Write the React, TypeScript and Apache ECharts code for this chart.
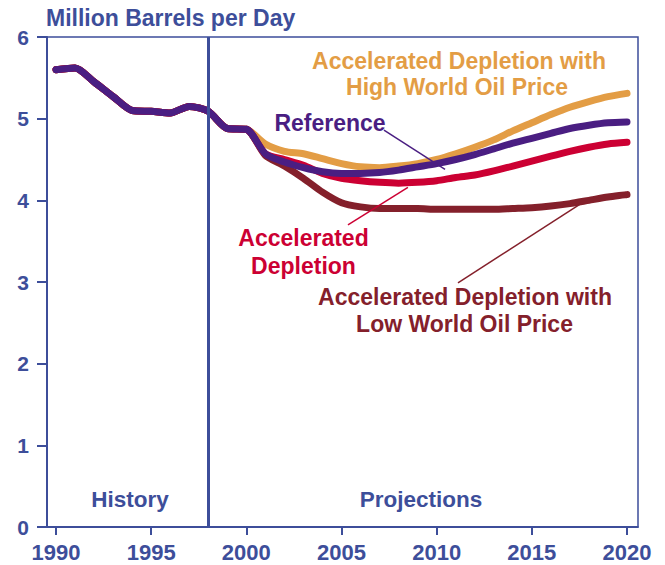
import React, { useEffect, useRef } from "react";
import * as echarts from "echarts";

const years = [1990,1991,1992,1993,1994,1995,1996,1997,1998,1999,2000,2001,2002,2003,2004,2005,2006,2007,2008,2009,2010,2011,2012,2013,2014,2015,2016,2017,2018,2019,2020];
const history = [5.60,5.62,5.45,5.27,5.10,5.09,5.07,5.15,5.09,4.88,4.87];
const referenceProj = [4.57,4.47,4.40,4.35,4.33,4.33,4.34,4.37,4.41,4.45,4.50,4.56,4.63,4.70,4.76,4.82,4.88,4.92,4.95,4.96];
const highPriceProj = [4.69,4.60,4.57,4.51,4.45,4.41,4.40,4.42,4.45,4.50,4.57,4.65,4.74,4.85,4.95,5.05,5.14,5.21,5.27,5.31];
const accelProj = [4.57,4.50,4.43,4.33,4.27,4.24,4.22,4.21,4.22,4.24,4.28,4.31,4.36,4.42,4.48,4.54,4.60,4.65,4.69,4.71];
const lowPriceProj = [4.55,4.42,4.27,4.10,3.97,3.92,3.90,3.90,3.90,3.89,3.89,3.89,3.89,3.90,3.91,3.93,3.96,4.00,4.04,4.07];
const yTicks = [0,1,2,3,4,5,6];
const xTicks = [1990,1995,2000,2005,2010,2015,2020];
const dividerYear = 1998;
const refLeader = [[2007.23,4.86],[2010.44,4.38]];
const accelLeader = [[2005.34,3.70],[2008.49,4.16]];
const lowLeader = [[2011.12,2.99],[2017.64,3.97]];

const BLUE = "#3d4e9a";
const ORANGE = "#e39d45";
const PURPLE = "#4a1e82";
const RED = "#cc0033";
const DARK = "#84202b";
const FONT = "'Liberation Sans', Arial, sans-serif";

function build(proj: number[]) {
  const vals = history.concat(proj);
  return years.map((y, i) => [y, vals[i]]);
}

export default function App() {
  const ref = useRef<HTMLDivElement>(null);
  useEffect(() => {
    if (!ref.current) return;
    const chart = echarts.init(ref.current, undefined, { renderer: "svg" });
    const lineSeries = (name: string, proj: number[], color: string, extra: any = {}) => ({
      name,
      type: "line",
      data: build(proj),
      showSymbol: false,
      smooth: 0.25,
      lineStyle: { color, width: 7, cap: "round", join: "round" },
      itemStyle: { color },
      silent: true,
      ...extra,
    });
    const txt = (text: string, x: number, y: number, color: string, size = 23) => ({
      type: "text",
      x,
      y,
      style: {
        text,
        fill: color,
        font: `bold ${size}px ${FONT}`,
        textAlign: "center",
        textVerticalAlign: "middle",
      },
    });
    const leader = (pts: number[][], color: string) => [
      { coord: pts[0], lineStyle: { color, width: 1.5, type: "solid" } },
      { coord: pts[1] },
    ];
    chart.setOption({
      animation: false,
      title: {
        text: "Million Barrels per Day",
        left: 46,
        top: 6,
        padding: 0,
        textStyle: { color: BLUE, fontSize: 23, fontWeight: "bold", fontFamily: FONT },
      },
      grid: { left: 56, right: 38, top: 37, bottom: 38, containLabel: false },
      xAxis: {
        type: "value",
        min: xTicks[0],
        max: xTicks[xTicks.length - 1],
        interval: 5,
        axisLine: { show: false },
        axisTick: { show: true, length: 8, lineStyle: { color: BLUE, width: 2 } },
        splitLine: { show: false },
        axisLabel: {
          color: BLUE,
          fontSize: 22,
          fontWeight: "bold",
          fontFamily: FONT,
          margin: 14,
          formatter: (v: number) => String(v),
        },
      },
      yAxis: {
        type: "value",
        min: yTicks[0],
        max: yTicks[yTicks.length - 1],
        interval: 1,
        offset: 9,
        axisLine: { show: true, lineStyle: { color: BLUE, width: 2 } },
        axisTick: { show: true, length: 10, lineStyle: { color: BLUE, width: 2 } },
        splitLine: { show: false },
        axisLabel: {
          color: BLUE,
          fontSize: 21,
          fontWeight: "bold",
          fontFamily: FONT,
          margin: 18,
        },
      },
      graphic: [
        {
          type: "rect",
          shape: { x: 47, y: 37, width: 591, height: 490 },
          style: { fill: "none", stroke: BLUE, lineWidth: 1.5 },
          z: 0,
          silent: true,
        },
        {
          type: "line",
          shape: { x1: 46, y1: 527, x2: 638.5, y2: 527 },
          style: { stroke: BLUE, lineWidth: 2 },
          silent: true,
        },
        txt("Accelerated Depletion with", 459, 61, ORANGE),
        txt("High World Oil Price", 457, 87, ORANGE),
        txt("Reference", 330, 123, PURPLE),
        txt("Accelerated", 303.5, 238, RED),
        txt("Depletion", 303.5, 266, RED),
        txt("Accelerated Depletion with", 465, 297, DARK),
        txt("Low World Oil Price", 464.5, 324, DARK),
        txt("History", 130, 499, BLUE, 22.5),
        txt("Projections", 421, 499, BLUE, 22.5),
      ],
      series: [
        lineSeries("Accelerated Depletion with High World Oil Price", highPriceProj, ORANGE, {
          markLine: {
            silent: true,
            symbol: ["none", "none"],
            label: { show: false },
            data: [{ xAxis: dividerYear, lineStyle: { color: BLUE, width: 3, type: "solid" } }],
          },
        }),
        lineSeries("Accelerated Depletion with Low World Oil Price", lowPriceProj, DARK),
        lineSeries("Accelerated Depletion", accelProj, RED),
        lineSeries("Reference", referenceProj, PURPLE, {
          markLine: {
            silent: true,
            symbol: ["none", "none"],
            label: { show: false },
            data: [leader(refLeader, PURPLE), leader(accelLeader, RED), leader(lowLeader, DARK)],
          },
        }),
      ],
    });
    return () => chart.dispose();
  }, []);
  return (
    <div
      ref={ref}
      style={{ position: "absolute", left: 0, top: 0, width: 665, height: 565, background: "#fff" }}
    />
  );
}
